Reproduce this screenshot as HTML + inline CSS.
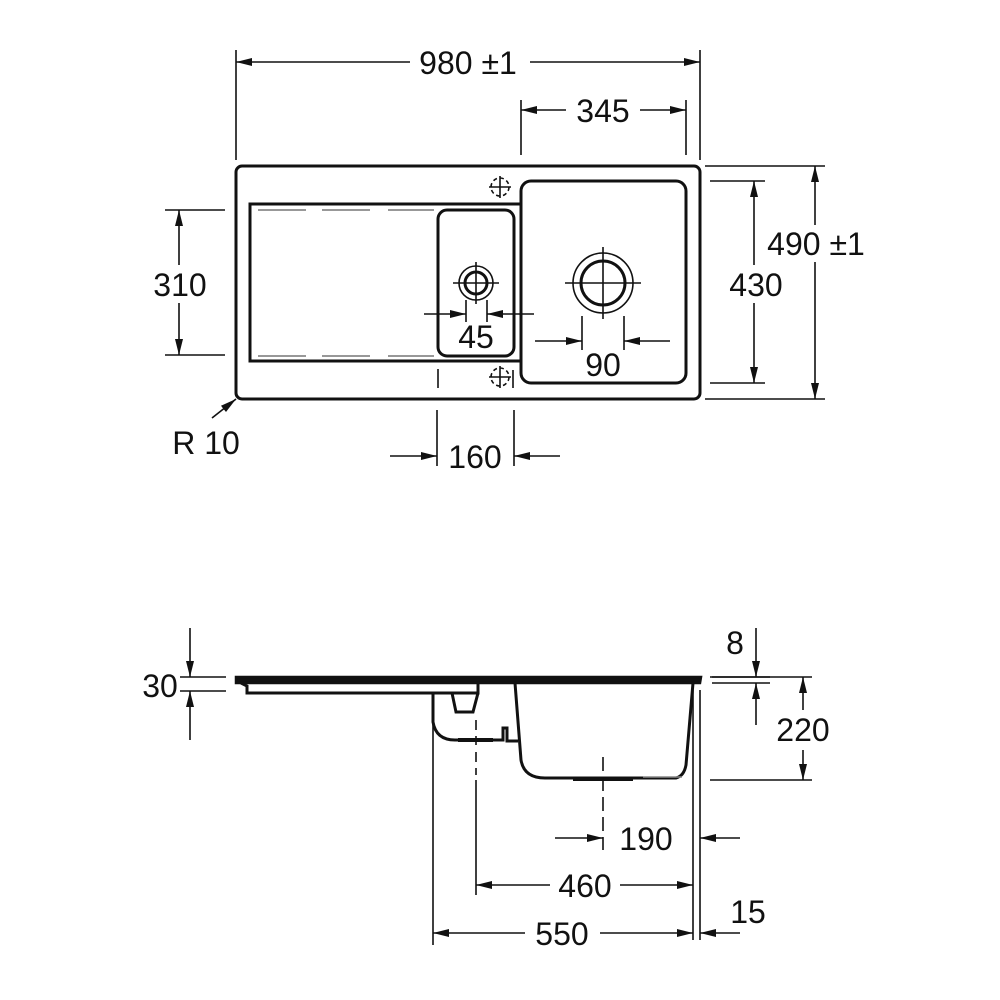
<!DOCTYPE html>
<html><head><meta charset="utf-8"><style>
html,body{margin:0;padding:0;background:#fff;width:1000px;height:1000px;overflow:hidden}
text{font-family:"Liberation Sans",sans-serif;font-size:32px;fill:#111;text-anchor:middle;dominant-baseline:central}
</style></head><body>
<svg width="1000" height="1000" viewBox="0 0 1000 1000" xmlns="http://www.w3.org/2000/svg">
<defs>
<marker id="a" viewBox="0 0 16 8" refX="16" refY="4" markerWidth="16" markerHeight="8" orient="auto" markerUnits="userSpaceOnUse"><path d="M0,0 L16,4 L0,8 Z" fill="#111"/></marker>
</defs>
<g stroke="#111" fill="none" stroke-width="1.6">
<rect x="236" y="166" width="464" height="233" rx="6" stroke-width="3"/>
<path d="M521,204 H250 V361 H521" stroke-width="3"/>
<path d="M258,210 H306 M322,210 H370 M388,210 H434 M258,356 H306 M322,356 H370 M388,356 H434" stroke="#777" stroke-width="1.5"/>
<rect x="438" y="210" width="76" height="146" rx="9" stroke-width="3"/>
<rect x="521" y="181" width="165" height="202" rx="10" stroke-width="3"/>
<circle cx="476" cy="283" r="11" stroke-width="3"/><circle cx="476" cy="283" r="17"/>
<path d="M476,262 V304 M453,283 H499"/>
<circle cx="603" cy="283" r="22" stroke-width="3"/><circle cx="603" cy="283" r="30"/>
<path d="M603,247 V319 M565,283 H641"/>
<circle cx="500" cy="187" r="9" stroke-dasharray="4 3"/><path d="M500,176 V198 M489,187 H511"/>
<circle cx="500" cy="377" r="9" stroke-dasharray="4 3"/><path d="M500,366 V388 M489,377 H511 M513,370 V388"/>
<path d="M438,369 V388"/>
<path d="M236,50 V160 M700,50 V160"/>
<path d="M410,62 H236" marker-end="url(#a)"/><path d="M530,62 H700" marker-end="url(#a)"/>
<path d="M521,100 V155 M686,100 V155"/>
<path d="M566,110 H521" marker-end="url(#a)"/><path d="M640,110 H686" marker-end="url(#a)"/>
<path d="M705,166 H825 M705,399 H825"/>
<path d="M815,225 V166" marker-end="url(#a)"/><path d="M815,262 V399" marker-end="url(#a)"/>
<path d="M710,181 H765 M710,383 H765"/>
<path d="M754,265 V181" marker-end="url(#a)"/><path d="M754,303 V383" marker-end="url(#a)"/>
<path d="M165,210 H225 M165,355 H225"/>
<path d="M179,265 V210" marker-end="url(#a)"/><path d="M179,303 V355" marker-end="url(#a)"/>
<path d="M212,418 L236,399" marker-end="url(#a)"/>
<path d="M437,410 V466 M514,410 V466"/>
<path d="M390,456 H437" marker-end="url(#a)"/><path d="M560,456 H514" marker-end="url(#a)"/>
<path d="M466,300 V322 M487,300 V322"/>
<path d="M424,314 H466" marker-end="url(#a)"/><path d="M534,314 H487" marker-end="url(#a)"/>
<path d="M582,316 V350 M624,316 V350"/>
<path d="M535,341 H582" marker-end="url(#a)"/><path d="M670,341 H624" marker-end="url(#a)"/>

<path d="M236,677 H701 L700,683 H236 Z" stroke-width="2.5" fill="#111"/>
<path d="M241,683 L247,686 V693 H478 V683" stroke-width="3"/>
<path d="M433,693 V722 Q436,740 455,740 H503 V728 H507 V741 H518" stroke-width="3"/>
<path d="M452,693 L456,712 H473 L478,693" stroke-width="3"/>
<path d="M458,740 H493" stroke-width="4"/>
<path d="M515,683 L521,760 Q524,778 545,778 H676 Q684,776 686,765 L693,683" stroke-width="3"/>
<path d="M573,779 H633" stroke-width="4"/><path d="M643,777 H682" stroke="#888"/>
<path d="M476,720 V745 M476,752 V775" stroke-dasharray="10 6"/>
<path d="M603,757 V850" stroke-dasharray="14 6"/>
<path d="M693,690 V940 M700,690 V940"/>
<path d="M433,700 V945 M476,780 V895"/>
<path d="M180,677 H226 M180,691 H226"/>
<path d="M190,628 V677" marker-end="url(#a)"/><path d="M190,740 V691" marker-end="url(#a)"/>
<path d="M712,677 H770 M712,683 H770"/>
<path d="M756,628 V677" marker-end="url(#a)"/><path d="M756,725 V683" marker-end="url(#a)"/>
<path d="M710,677 H812 M710,780 H812"/>
<path d="M803,710 V677" marker-end="url(#a)"/><path d="M803,750 V780" marker-end="url(#a)"/>
<path d="M555,838 H603" marker-end="url(#a)"/><path d="M740,838 H700" marker-end="url(#a)"/>
<path d="M550,885 H476" marker-end="url(#a)"/><path d="M620,885 H693" marker-end="url(#a)"/>
<path d="M525,933 H433" marker-end="url(#a)"/><path d="M600,933 H693" marker-end="url(#a)"/>
<path d="M740,933 H700" marker-end="url(#a)"/>
</g>
<text x="468" y="63">980 ±1</text>
<text x="603" y="111">345</text>
<text x="816" y="244">490 ±1</text>
<text x="756" y="285">430</text>
<text x="180" y="285">310</text>
<text x="206" y="443">R 10</text>
<text x="475" y="457">160</text>
<text x="476" y="337">45</text>
<text x="603" y="365">90</text>
<text x="160" y="686">30</text>
<text x="735" y="643">8</text>
<text x="803" y="730">220</text>
<text x="646" y="839">190</text>
<text x="585" y="886">460</text>
<text x="562" y="934">550</text>
<text x="748" y="912">15</text>
</svg>
</body></html>
